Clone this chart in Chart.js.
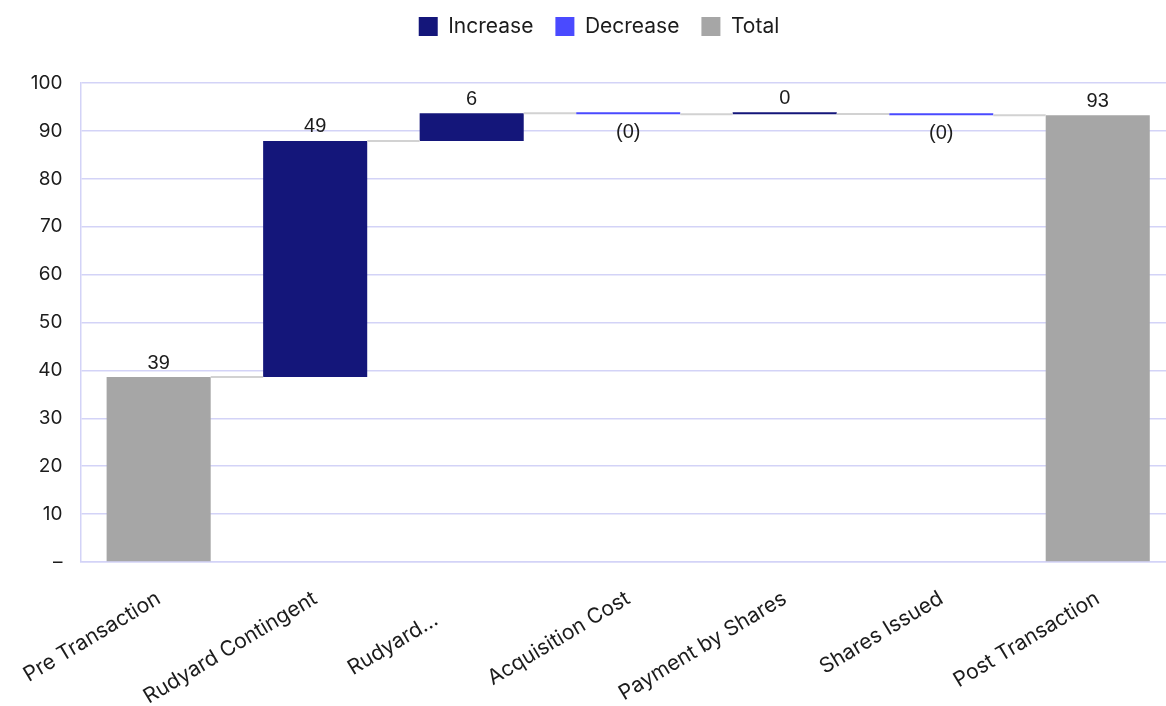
<!DOCTYPE html>
<html>
<head>
<meta charset="utf-8">
<script src="https://cdn.jsdelivr.net/npm/chart.js@4.4.1/dist/chart.umd.min.js"></script>
<style>
html, body { margin: 0; padding: 0; background: #fff; overflow: hidden; }
</style>
</head>
<body>
<canvas id="waterfall" width="1176" height="706"></canvas>
<script>
// chart values
var categories = ['Pre Transaction', 'Rudyard Contingent', 'Rudyard...\u00a0\u00a0\u00a0\u00a0\u00a0\u00a0\u00a0', 'Acquisition Cost', 'Payment by Shares', 'Shares Issued', 'Post Transaction'];
var startTotal = 38.6;
var changes = [49.3, 5.8, -0.2, 0.05, -0.3];
var endTotal = 93.25;
var yTicks = [0, 10, 20, 30, 40, 50, 60, 70, 80, 90, 100];

var legendNames = ['Increase', 'Decrease', 'Total'];
var colors = ['#14167a', '#4a4aff', '#a6a6a6'];
var gridColor = '#d3d3f7';
var textColor = '#1c1c1c';
var fontFamily = "Inter, 'Noto Sans', sans-serif";

// build floating bars from the steps
var increaseData = [], decreaseData = [], totalData = [], labelValues = [], levels = [];
var running = startTotal;
totalData.push([0, startTotal]); increaseData.push(null); decreaseData.push(null);
labelValues.push(startTotal); levels.push(startTotal);
changes.forEach(function(c){
    var from = running;
    running = running + c;
    if (c >= 0) {
        increaseData.push([from, running]); decreaseData.push(null);
    } else {
        increaseData.push(null); decreaseData.push([running, from]);
    }
    totalData.push(null);
    labelValues.push(c);
    levels.push(running);
});
totalData.push([0, endTotal]); increaseData.push(null); decreaseData.push(null);
labelValues.push(endTotal); levels.push(endTotal);

function formatValue(v) {
    var r = Math.round(v);
    if (v < 0) return '(' + Math.abs(r) + ')';
    return String(r);
}

// connectors between bars + value labels
var waterfallExtras = {
    id: 'waterfallExtras',
    afterDatasetsDraw: function(chart) {
        var ctx = chart.ctx;
        var y = chart.scales.y;
        var elems = [];
        for (var i = 0; i < categories.length; i++) {
            for (var d = 0; d < chart.data.datasets.length; d++) {
                if (chart.data.datasets[d].data[i] !== null) {
                    elems[i] = { el: chart.getDatasetMeta(d).data[i], ds: d };
                }
            }
        }
        ctx.save();
        // connectors
        ctx.strokeStyle = '#d2d2d2';
        ctx.lineWidth = 2;
        for (var i = 0; i < categories.length - 1; i++) {
            var a = elems[i].el, b = elems[i + 1].el;
            var py = y.getPixelForValue(levels[i]);
            ctx.beginPath();
            ctx.moveTo(a.x + a.width / 2, py);
            ctx.lineTo(b.x - b.width / 2, py);
            ctx.stroke();
        }
        // labels
        ctx.fillStyle = textColor;
        ctx.font = "20px 'Liberation Sans', Arial, sans-serif";
        ctx.textAlign = 'center';
        for (var i = 0; i < categories.length; i++) {
            var e = elems[i].el;
            var v = labelValues[i];
            if (elems[i].ds === 1) {
                ctx.textBaseline = 'top';
                ctx.fillText(formatValue(v), e.x, e.base + 8);
            } else {
                ctx.textBaseline = 'bottom';
                ctx.fillText(formatValue(v), e.x, Math.min(e.y, e.base) - 4);
            }
        }
        ctx.restore();
    }
};

var legendMargin = {
    id: 'legendMargin',
    beforeInit: function(chart) {
        var fit = chart.legend.fit;
        chart.legend.fit = function() {
            fit.bind(chart.legend)();
            this.height += 36;
        };
    }
};

var ctx1 = document.getElementById('waterfall').getContext('2d');
window.myChart1 = new Chart(ctx1, {
    type: 'bar',
    data: {
        labels: categories,
        datasets: [
            { label: legendNames[0], data: increaseData, backgroundColor: colors[0] },
            { label: legendNames[1], data: decreaseData, backgroundColor: colors[1] },
            { label: legendNames[2], data: totalData, backgroundColor: colors[2] }
        ]
    },
    options: {
        responsive: false,
        animation: false,
        categoryPercentage: 1,
        barPercentage: 0.665,
        minBarLength: 2,
        layout: { padding: { left: 22, top: -6 } },
        plugins: {
            legend: {
                position: 'top',
                labels: {
                    boxWidth: 19,
                    boxHeight: 19,
                    padding: 22,
                    color: textColor,
                    font: { family: fontFamily, size: 21 }
                }
            },
            tooltip: { enabled: false }
        },
        scales: {
            x: {
                stacked: true,
                afterFit: function(scale) { scale.height = 144; },
                grid: { display: false },
                border: { color: gridColor, width: 1.5 },
                ticks: {
                    autoSkip: false,
                    minRotation: 31,
                    maxRotation: 31,
                    padding: 16,
                    color: textColor,
                    font: { family: fontFamily, size: 21 }
                }
            },
            y: {
                min: 0,
                max: 100,
                afterFit: function(scale) { scale.width = 58.4; },
                afterBuildTicks: function(scale) {
                    scale.ticks = yTicks.map(function(v){ return { value: v }; });
                },
                grid: { color: gridColor, lineWidth: 1.5, drawTicks: false },
                border: { color: gridColor, width: 1.5 },
                ticks: {
                    padding: 18,
                    color: textColor,
                    font: { family: fontFamily, size: 19 },
                    callback: function(v) { return v === 0 ? '\u2013' : v; }
                }
            }
        }
    },
    plugins: [waterfallExtras, legendMargin]
});
</script>
</body>
</html>
